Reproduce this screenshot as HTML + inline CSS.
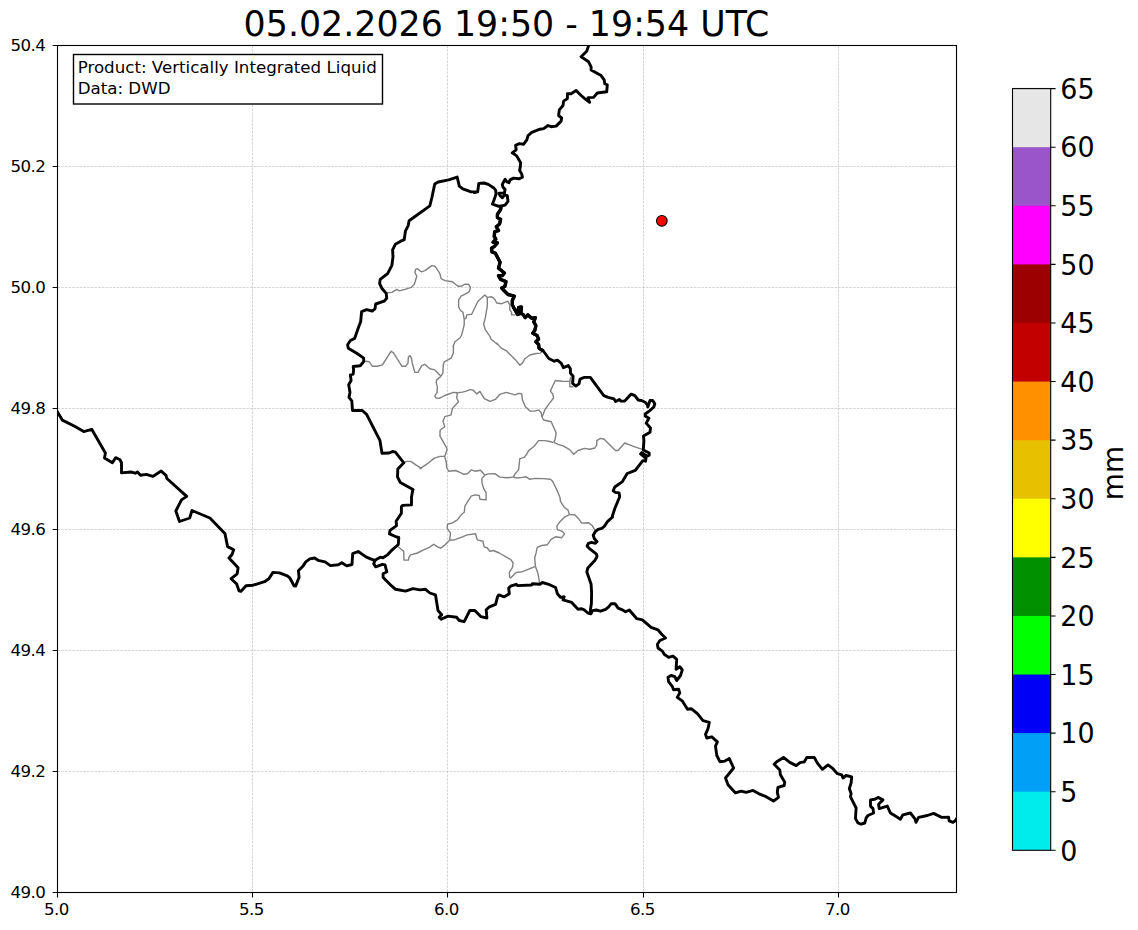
<!DOCTYPE html>
<html lang="en"><head><meta charset="utf-8"><title>Vertically Integrated Liquid</title>
<style>html,body{margin:0;padding:0;background:#fff}svg{display:block}</style></head>
<body>
<svg width="1138" height="930" viewBox="0 0 1138 930" font-family="'DejaVu Sans','Liberation Sans',sans-serif" fill="#000">
<rect x="0" y="0" width="1138" height="930" fill="#fff"/>
<text x="506.4" y="35.8" font-size="34.8" text-anchor="middle">05.02.2026 19:50 - 19:54 UTC</text>
<path d="M252.50 45.5V892.5M447.50 45.5V892.5M643.50 45.5V892.5M838.50 45.5V892.5M57.5 166.50H956.5M57.5 287.50H956.5M57.5 408.50H956.5M57.5 529.50H956.5M57.5 650.50H956.5M57.5 771.50H956.5" fill="none" stroke="#b0b0b0" stroke-opacity="0.75" stroke-width="0.7" stroke-dasharray="2.6 1.1"/>
<clipPath id="c"><rect x="57.5" y="45.5" width="899.0" height="847.0"/></clipPath>
<g clip-path="url(#c)" fill="none" stroke-linejoin="round" stroke-linecap="butt">
<path d="M385.6 293.0L391.9 292.4L396.8 289.3L399.3 290.9L405.0 289.3L411.2 287.4L414.3 284.3L416.8 276.2L414.9 272.5L415.6 269.3L417.4 268.7L421.2 271.8L424.9 270.6L431.8 265.6L434.9 266.2L438.0 270.6L439.9 273.7L441.1 278.7L444.9 280.6L452.4 281.8L458.0 286.2L461.1 286.2L464.8 284.3L468.6 284.3L470.5 287.4L469.2 291.8L466.1 293.7L461.1 296.2L458.6 299.9L458.6 306.8L460.5 310.5L463.0 312.4L464.2 319.3" stroke="#808080" stroke-width="1.4"/>
<path d="M464.2 319.3L466.1 318.0L466.7 314.9L471.7 314.3L478.0 301.2L484.8 294.9L487.3 297.4L491.7 296.8L494.8 299.3L496.7 303.0L501.7 303.7L507.9 301.2L509.8 304.9L509.8 309.9L511.6 312.4L511.6 314.9L515.4 314.9" stroke="#808080" stroke-width="1.4"/>
<path d="M487.3 297.4L487.3 306.1L485.4 317.4L483.6 324.2L485.4 329.9L489.8 336.1L491.1 339.2L497.3 344.2L496.8 343.1L501.2 348.1L506.1 350.6L511.1 355.6L516.1 360.6L519.9 365.2L522.4 363.1L524.9 358.7L529.9 355.0L536.1 353.5L540.5 353.1L541.7 351.8" stroke="#808080" stroke-width="1.4"/>
<path d="M464.2 319.3L464.2 324.9L461.7 334.8L459.9 338.0L454.9 341.7L453.0 346.7L453.5 346.2L453.3 353.1L451.1 358.1L444.2 361.8L443.3 364.9L442.9 373.0L441.1 376.2" stroke="#808080" stroke-width="1.4"/>
<path d="M365.0 361.2L369.3 361.8L372.4 366.2L377.4 366.2L382.4 364.9L391.2 351.2L393.7 353.1L401.8 366.2L405.5 366.2L408.0 363.1L408.4 356.8L410.1 355.6L411.4 358.1L412.4 363.7L414.9 372.4L418.0 372.4L421.7 365.6L424.8 364.3L429.8 368.7L434.8 369.9L441.1 376.2" stroke="#808080" stroke-width="1.4"/>
<path d="M441.1 376.2L436.7 379.9L436.1 382.4L437.3 386.1L437.1 392.4L434.8 396.1L436.1 398.0L439.2 398.4L444.8 395.5L453.5 392.4L457.3 392.8" stroke="#808080" stroke-width="1.4"/>
<path d="M457.2 392.8L462.5 392.1L466.2 391.1L470.0 389.6L473.1 390.1L476.8 393.9L479.9 391.4L484.3 398.6L489.9 401.4L495.5 399.3L499.9 394.3L506.1 392.4L510.5 393.6L514.9 394.9L518.6 393.4L521.7 393.6L522.4 399.9L525.5 406.7L529.9 411.1L534.8 411.1L538.6 409.9L541.1 412.4L542.0 417.3" stroke="#808080" stroke-width="1.4"/>
<path d="M542.0 417.3L544.8 409.9L549.2 403.6L553.6 398.0L552.9 394.3L550.4 391.1L552.9 385.5L555.4 380.5L562.3 381.2L569.8 381.4L569.8 386.8L573.5 386.8" stroke="#808080" stroke-width="1.4"/>
<path d="M569.8 381.4L570.8 376.8" stroke="#808080" stroke-width="1.4"/>
<path d="M542.2 417.5L543.7 420.0L551.2 421.8L554.3 428.7L556.2 433.1L555.0 439.9L553.7 442.4" stroke="#808080" stroke-width="1.4"/>
<path d="M553.7 442.4L558.1 444.3L563.7 446.2L569.9 449.9L573.7 454.3L578.0 450.5L584.3 448.4L589.9 449.3L594.9 448.0L596.8 444.9L596.8 440.6L600.5 438.4L604.2 439.3L609.9 444.9L615.5 450.5L618.0 450.5L624.8 443.0L629.8 444.9L634.8 446.8L642.3 449.3" stroke="#808080" stroke-width="1.4"/>
<path d="M553.3 442.7L549.8 441.5L544.8 440.6L538.5 440.6L534.2 446.2L528.6 450.6L526.7 454.3L524.2 457.4L519.8 458.7L518.6 469.9L514.8 474.3L513.3 477.1" stroke="#808080" stroke-width="1.4"/>
<path d="M457.3 392.8L456.7 398.0L458.5 401.7L452.3 408.6L451.1 414.8L444.8 416.7L442.9 421.1L444.8 426.7L440.4 429.8L440.0 431.2L440.0 436.2L446.8 448.1L446.8 450.6L444.7 456.4" stroke="#808080" stroke-width="1.4"/>
<path d="M444.7 456.4L440.0 456.4L434.3 458.1L427.5 463.7L420.0 468.7L421.4 468.4L415.8 464.9L410.8 461.4L406.6 461.4L403.8 462.8" stroke="#808080" stroke-width="1.4"/>
<path d="M444.7 456.4L446.2 461.8L446.8 468.0L448.7 471.2L455.6 470.5L459.9 472.4L463.7 474.3L467.4 473.7L471.2 469.9L474.9 471.2L480.5 470.3L484.9 475.2" stroke="#808080" stroke-width="1.4"/>
<path d="M484.9 475.2L488.0 473.9L494.9 473.7L499.9 477.1L507.3 477.8L513.3 477.1" stroke="#808080" stroke-width="1.4"/>
<path d="M484.9 475.2L481.8 478.6L482.1 483.6L484.3 489.9L486.1 492.4L486.1 499.9L479.9 499.2L479.3 495.5L474.9 494.9L471.2 496.1L468.0 501.1L464.9 506.1L464.3 512.3L461.2 514.8L457.4 519.8L452.4 522.9L447.5 524.2L447.1 528.1L450.5 533.1L449.6 540.2" stroke="#808080" stroke-width="1.4"/>
<path d="M449.6 540.2L444.9 544.9L441.1 548.0L438.0 547.2L433.7 544.3L429.3 547.4L423.7 549.9L417.4 553.0L410.6 554.9L408.9 557.4L408.4 560.1L404.0 560.1L403.7 551.2L398.1 546.8" stroke="#808080" stroke-width="1.4"/>
<path d="M449.6 540.2L454.9 539.7L461.1 537.4L467.3 534.9L475.5 533.7L477.3 539.9L482.9 541.2L484.2 546.8L487.3 548.0L489.8 551.2L493.5 550.5L499.2 553.0L506.0 556.8L511.0 559.9L513.1 563.0L512.5 567.4L509.3 572.4L509.7 577.3L510.6 578.0L516.2 572.4L522.4 571.7L529.9 568.6L535.5 566.4" stroke="#808080" stroke-width="1.4"/>
<path d="M535.5 566.4L538.0 573.6L539.5 583.0" stroke="#808080" stroke-width="1.4"/>
<path d="M513.3 477.1L517.3 478.0L522.3 477.4L526.1 476.8L529.8 479.3L534.8 478.4L542.9 478.6L550.4 479.3L552.5 481.1L556.8 489.8L559.9 497.3L560.6 501.7L564.3 507.3L567.4 509.8L568.0 510.0L569.5 514.6" stroke="#808080" stroke-width="1.4"/>
<path d="M569.5 514.6L574.8 514.7L578.6 518.7L581.7 523.1L588.6 522.7L592.3 525.6L594.8 530.2" stroke="#808080" stroke-width="1.4"/>
<path d="M569.5 514.6L564.9 516.8L559.9 521.8L556.8 526.2L557.4 529.7L562.4 531.4L564.6 533.9L561.7 537.7L555.5 536.8L551.1 539.3L547.4 544.7L541.8 545.5L537.2 547.4L536.2 552.4L534.7 558.0L535.2 563.6L535.5 566.4" stroke="#808080" stroke-width="1.4"/>
<path d="M56.3 409.9L62.3 420.1L74.6 426.3L83.7 431.6L91.7 429.3L105.4 453.0L104.5 457.9L112.4 462.7L115.6 457.7L119.8 459.5L121.5 462.7L121.5 472.9L130.8 472.0L135.2 473.2L137.5 472.0L140.5 475.3L146.3 474.4L152.8 476.4L161.2 471.1L166.0 475.3L166.9 478.5L186.7 496.4L181.5 499.9L175.8 511.0L179.5 521.5L189.7 518.0L192.0 510.5L209.9 518.0L224.9 533.4L227.6 546.6L233.7 549.7L232.0 554.5L229.0 558.0L238.1 567.7L237.2 573.8L231.1 578.7L236.7 584.0L239.0 590.9L240.8 591.4L246.0 585.8L253.1 585.2L264.5 581.7L268.9 578.7L272.9 572.4L279.4 572.9L287.3 575.9L290.0 578.2L294.0 585.8L295.6 586.1L299.1 577.3L298.4 570.7L303.1 565.9L305.8 561.9L309.8 558.9L314.6 558.0L318.1 560.3L325.1 561.9L330.4 565.6L338.3 564.7L341.8 562.7L346.7 565.9L352.0 564.5L352.7 553.6L358.2 551.5L366.4 557.1L374.3 560.3L375.0 560.3" stroke="#000" stroke-width="2.9"/>
<path d="M375.0 560.3L380.3 557.2L383.0 557.8L387.8 554.6L392.2 549.8L398.3 544.5L398.8 537.5L396.6 537.0L389.5 533.9L390.0 530.4L396.6 525.6L396.1 521.2L401.4 513.3L401.4 506.7L402.7 505.4L411.5 504.9L411.5 497.0L412.8 490.0L413.0 489.5L400.3 482.5L397.5 476.9L397.8 469.1L403.8 462.8L395.4 452.2L392.6 451.5L389.1 453.0L382.0 453.2L379.9 440.3L366.6 414.3L362.3 410.5L352.5 410.5L351.8 400.9L349.0 397.4L350.0 392.5L348.7 384.8L351.1 380.5L350.4 374.9L353.2 374.2L353.6 370.0L353.2 366.5L360.2 365.8L363.7 361.6L363.7 358.1L356.7 353.2L348.3 348.3L347.6 344.7L350.4 340.5L354.6 338.4L358.1 328.6L360.7 321.5L361.6 311.7L366.6 309.6L372.2 311.0L375.0 308.9L375.7 304.0L384.1 301.2L386.7 298.3L386.2 293.4L382.0 288.5L379.6 283.6L380.2 279.4L387.6 273.7L391.9 265.3L393.0 256.9L392.6 249.8L395.4 244.2L400.3 241.4L404.2 239.7L405.4 231.2L408.2 225.6L409.1 220.7L429.8 205.9L431.9 197.5L434.7 184.1L438.2 182.0L448.7 179.9L457.2 177.1L459.3 186.2L462.8 188.8L471.2 191.9L477.6 191.9L474.2 192.5L477.7 191.8L478.8 183.4L484.1 183.0L488.3 184.4L493.9 188.0L495.7 190.4L496.0 194.3L494.3 199.2L492.5 204.1L498.1 206.2L502.0 205.9L501.2 206.3L500.6 209.5L497.4 214.4L497.4 217.6L500.6 219.2L499.6 224.0L496.3 226.7L498.5 230.5L494.7 231.6L494.2 236.4L495.8 239.1L493.1 242.3L497.4 242.8L494.2 246.6L491.5 248.2L492.0 252.0L495.3 253.1L500.1 262.2L498.5 268.1L504.4 273.0L502.3 275.6L498.5 275.6L500.6 279.4L506.0 281.6L504.9 286.4L501.7 288.0L504.2 290.8L508.0 294.5L514.4 296.1L512.3 300.4L512.3 304.7L514.4 309.0L517.6 314.4L520.9 313.3L521.4 306.9L518.7 307.4L517.6 311.2L523.0 314.4L525.2 317.6L527.8 314.9L531.6 318.2L535.4 317.6L533.8 321.9L535.9 325.7L534.8 330.5L532.7 333.2L537.0 335.4L538.6 339.1L535.9 341.8L538.6 344.5L539.1 348.3L543.4 351.0L548.8 358.5L554.2 361.2L557.4 360.1L561.3 363.4L563.4 367.7L568.3 365.6L570.4 368.8L570.4 373.1L573.1 376.3L572.6 383.3L575.8 386.0L579.0 383.9L580.1 379.0L584.4 377.4L590.3 377.4L603.8 395.7L608.1 397.3L614.0 398.9L615.6 401.6L619.4 399.5L621.0 401.1L624.7 401.1L631.2 394.1L634.9 395.7L638.2 400.0L641.4 400.5L645.2 402.2L647.3 404.8L647.8 407.0L650.0 400.5L652.7 400.5L654.8 403.8L653.8 407.0L649.5 410.8L645.2 414.0L645.2 416.1L648.9 418.3L646.2 423.1L650.5 428.0L650.0 432.3L643.5 436.0L643.9 440.8L643.3 449.9L649.2 453.1L649.2 455.3L647.1 456.3L641.7 452.6L640.6 453.9L646.0 458.5L645.5 461.2L642.8 460.6L635.3 470.3L627.2 473.5L622.4 481.6L614.8 487.0L613.2 490.8L615.4 492.4L619.1 492.9L619.7 496.7L614.8 508.5L612.2 516.6L612.6 517.0L607.7 521.3L604.5 526.1L601.8 528.3L598.1 529.4L595.4 531.5L593.2 535.3L594.3 538.5L597.0 541.7L595.4 543.3L591.6 542.3L588.4 543.3L587.1 546.0L588.9 548.2L596.5 554.1L597.0 556.8L594.8 560.5L587.8 568.1L586.8 571.8L591.1 584.2L591.6 592.8L591.4 603.5L590.4 609.9L590.8 613.9L590.8 613.9L587.9 613.0L584.2 609.9L581.7 608.7L578.0 609.3L571.7 602.4L563.0 599.9L564.2 596.8L560.5 597.4L557.4 593.7L555.5 587.5L548.6 584.3L542.4 582.5L539.9 584.3L532.4 583.7L531.8 585.0L517.4 585.6L516.2 584.3L510.6 586.2L508.7 588.1L509.3 593.7L504.3 596.8L498.7 594.9L497.5 596.8L495.6 604.3L489.4 606.8L486.2 609.9L486.9 618.0L481.0 616.7L474.8 610.5L469.8 610.5L464.2 621.7L459.2 620.5L456.7 617.3L448.0 616.1L441.1 619.2L439.2 617.3L441.7 614.8L438.0 610.5L435.5 594.9L429.9 593.0L425.5 589.3L419.9 589.9L413.0 588.6L405.5 591.1L395.6 589.3L389.9 584.3L383.1 577.4L383.1 573.7L386.8 571.8L385.0 564.9L382.5 564.3L375.6 566.8L373.7 563.7L375.0 560.6" stroke="#000" stroke-width="2.9"/>
<path d="M589.2 42.5L588.6 45.6L586.7 51.2L581.1 56.8L588.6 61.8L591.1 66.8L591.1 69.9L601.1 75.6L604.2 79.9L604.8 83.7L607.3 84.9L606.7 91.8L597.3 93.0L593.6 97.4L588.0 97.6L589.6 102.4L584.8 98.6L581.1 95.5L576.1 90.5L571.1 93.7L567.4 93.7L567.4 98.6L563.6 101.1L563.0 105.5L559.3 109.9L558.6 115.5L561.7 118.0L561.1 121.1L556.1 126.1L551.1 126.7L548.0 125.5L543.7 128.6L539.9 129.2L531.8 132.3L528.1 135.5L526.8 139.8L523.7 144.2L519.3 143.6L515.6 145.4L516.2 149.8L512.2 152.8L516.4 155.6L518.5 159.1L520.6 162.7L520.3 166.9L519.6 170.4L521.7 173.9L522.4 177.1L519.2 178.8L513.6 178.1L510.1 179.9L509.0 182.7L506.6 181.6L505.1 179.2L502.3 184.4L503.0 187.3L505.1 189.4L504.4 192.9L498.8 193.2L500.2 195.7L502.3 197.8L504.4 195.0L507.3 195.7L508.0 201.3L505.1 205.2L502.0 205.9" stroke="#000" stroke-width="2.9"/>
<path d="M590.6 614.3L592.5 610.6L596.2 610.0L600.6 611.2L605.6 609.3L608.7 606.8L611.2 603.7L615.0 603.7L618.1 608.1L621.2 609.3L625.6 611.8L629.3 610.0L636.8 618.7L642.4 619.9L651.1 627.4L658.0 629.9L661.7 634.3L665.5 638.0L659.9 640.5L657.4 644.3L658.0 648.0L662.4 651.1L664.2 654.3L668.6 657.4L673.0 656.1L676.7 659.3L676.1 669.2L679.8 666.7L682.3 669.9L680.5 675.5L676.7 680.5L674.8 676.7L671.1 675.5L668.0 677.3L668.6 681.7L672.4 686.7L673.6 689.8L678.6 689.2L679.8 692.9L677.3 697.3L682.5 701.2L687.5 709.3L691.2 708.7L697.4 713.7L703.0 720.6L709.3 722.4L708.0 728.7L705.5 734.3L706.8 738.0L711.8 736.8L717.4 741.8L715.5 746.1L716.8 755.5L719.9 761.7L724.9 761.1L729.3 758.6L733.6 768.0L725.5 778.0L728.0 784.8L735.5 792.9L741.1 791.1L746.1 792.3L753.0 790.4L758.6 793.6L766.1 796.7L773.5 801.1L778.5 797.3L777.3 792.3L777.9 787.3L784.2 785.5L784.8 782.3L780.4 774.8L779.8 769.9L774.2 764.2L776.7 761.7L783.5 757.4L789.8 762.4L796.2 765.6L800.0 762.7L804.3 761.8L806.8 757.5L814.3 757.5L817.4 763.1L822.4 769.3L828.0 764.9L833.0 768.7L837.4 773.7L841.8 774.9L843.0 778.0L846.1 775.5L851.7 776.8L851.1 783.0L849.3 788.6L851.1 793.6L850.5 796.8L856.1 808.0L855.5 818.6L858.0 823.0L861.1 824.2L864.8 823.0L866.1 818.0L868.0 815.5L873.6 813.0L873.0 808.6L870.5 806.1L870.5 799.9L874.8 799.3L878.0 797.4L882.9 799.9L878.6 804.2L879.2 808.6L887.3 806.1L890.4 813.0L895.4 816.1L900.4 819.2L902.9 814.8L910.4 813.0L914.8 818.6L916.0 822.3L918.6 817.4L927.4 815.5L933.6 813.4L941.7 817.4L948.6 817.2L949.2 820.9L953.0 822.4L955.5 820.5L958.6 815.5" stroke="#000" stroke-width="2.9"/>
<path d="M501.2 206.3L500.6 209.5L497.4 214.4L497.4 217.6L500.6 219.2L499.6 224.0L496.3 226.7L498.5 230.5L494.7 231.6L494.2 236.4L495.8 239.1L493.1 242.3L497.4 242.8L494.2 246.6L491.5 248.2L492.0 252.0L495.3 253.1L500.1 262.2L498.5 268.1L504.4 273.0L502.3 275.6L498.5 275.6L500.6 279.4L506.0 281.6L504.9 286.4L501.7 288.0L504.2 290.8L508.0 294.5L514.4 296.1L512.3 300.4L512.3 304.7L514.4 309.0L517.6 314.4L520.9 313.3L521.4 306.9L518.7 307.4L517.6 311.2L523.0 314.4L525.2 317.6L527.8 314.9L531.6 318.2L535.4 317.6L533.8 321.9L535.9 325.7L534.8 330.5L532.7 333.2L537.0 335.4L538.6 339.1L535.9 341.8L538.6 344.5L539.1 348.3L543.4 351.0" stroke="#000" stroke-width="3.4"/>
</g>
<circle cx="661.85" cy="220.85" r="5.35" fill="#ff0000" stroke="#000" stroke-width="1.1"/>
<path d="M57.50 892.5v4.9M252.50 892.5v4.9M447.50 892.5v4.9M643.50 892.5v4.9M838.50 892.5v4.9M57.5 45.50h-4.9M57.5 166.50h-4.9M57.5 287.50h-4.9M57.5 408.50h-4.9M57.5 529.50h-4.9M57.5 650.50h-4.9M57.5 771.50h-4.9M57.5 892.50h-4.9" fill="none" stroke="#000" stroke-width="1.1"/>
<rect x="57.5" y="45.5" width="899.0" height="847.0" fill="none" stroke="#000" stroke-width="1.1"/>
<text x="56.4" y="915.4" font-size="16.67" letter-spacing="-0.6" text-anchor="middle">5.0</text>
<text x="251.4" y="915.4" font-size="16.67" letter-spacing="-0.6" text-anchor="middle">5.5</text>
<text x="446.4" y="915.4" font-size="16.67" letter-spacing="-0.6" text-anchor="middle">6.0</text>
<text x="642.4" y="915.4" font-size="16.67" letter-spacing="-0.6" text-anchor="middle">6.5</text>
<text x="837.4" y="915.4" font-size="16.67" letter-spacing="-0.6" text-anchor="middle">7.0</text>
<text x="45.3" y="51.3" font-size="16.67" letter-spacing="-0.6" text-anchor="end">50.4</text>
<text x="45.3" y="172.3" font-size="16.67" letter-spacing="-0.6" text-anchor="end">50.2</text>
<text x="45.3" y="293.3" font-size="16.67" letter-spacing="-0.6" text-anchor="end">50.0</text>
<text x="45.3" y="414.3" font-size="16.67" letter-spacing="-0.6" text-anchor="end">49.8</text>
<text x="45.3" y="535.3" font-size="16.67" letter-spacing="-0.6" text-anchor="end">49.6</text>
<text x="45.3" y="656.3" font-size="16.67" letter-spacing="-0.6" text-anchor="end">49.4</text>
<text x="45.3" y="777.3" font-size="16.67" letter-spacing="-0.6" text-anchor="end">49.2</text>
<text x="45.3" y="898.3" font-size="16.67" letter-spacing="-0.6" text-anchor="end">49.0</text>
<rect x="73.5" y="54.5" width="309" height="49.5" fill="#fff" stroke="#000" stroke-width="1.4"/>
<text x="77.7" y="73.4" font-size="16.67">Product: Vertically Integrated Liquid</text>
<text x="77.7" y="94.4" font-size="16.67">Data: DWD</text>
<rect x="1012.5" y="790.71" width="38.2" height="59.59" fill="#00ecec"/>
<rect x="1012.5" y="732.12" width="38.2" height="59.59" fill="#01a0f6"/>
<rect x="1012.5" y="673.52" width="38.2" height="59.59" fill="#0000f6"/>
<rect x="1012.5" y="614.93" width="38.2" height="59.59" fill="#00ff00"/>
<rect x="1012.5" y="556.34" width="38.2" height="59.59" fill="#009000"/>
<rect x="1012.5" y="497.75" width="38.2" height="59.59" fill="#ffff00"/>
<rect x="1012.5" y="439.15" width="38.2" height="59.59" fill="#e7c000"/>
<rect x="1012.5" y="380.56" width="38.2" height="59.59" fill="#ff9000"/>
<rect x="1012.5" y="321.97" width="38.2" height="59.59" fill="#c20000"/>
<rect x="1012.5" y="263.38" width="38.2" height="59.59" fill="#9c0000"/>
<rect x="1012.5" y="204.78" width="38.2" height="59.59" fill="#ff00ff"/>
<rect x="1012.5" y="146.19" width="38.2" height="59.59" fill="#9955c9"/>
<rect x="1012.5" y="87.60" width="38.2" height="59.59" fill="#e6e6e6"/>
<rect x="1012.5" y="88.6" width="38.2" height="761.7" fill="none" stroke="#000" stroke-width="1.1"/>
<text transform="translate(1060.3 860.5) scale(0.968 1)" font-size="27.8">0</text>
<text transform="translate(1060.3 801.9) scale(0.968 1)" font-size="27.8">5</text>
<text transform="translate(1060.3 743.3) scale(0.968 1)" font-size="27.8">10</text>
<text transform="translate(1060.3 684.7) scale(0.968 1)" font-size="27.8">15</text>
<text transform="translate(1060.3 626.1) scale(0.968 1)" font-size="27.8">20</text>
<text transform="translate(1060.3 567.5) scale(0.968 1)" font-size="27.8">25</text>
<text transform="translate(1060.3 508.9) scale(0.968 1)" font-size="27.8">30</text>
<text transform="translate(1060.3 450.4) scale(0.968 1)" font-size="27.8">35</text>
<text transform="translate(1060.3 391.8) scale(0.968 1)" font-size="27.8">40</text>
<text transform="translate(1060.3 333.2) scale(0.968 1)" font-size="27.8">45</text>
<text transform="translate(1060.3 274.6) scale(0.968 1)" font-size="27.8">50</text>
<text transform="translate(1060.3 216.0) scale(0.968 1)" font-size="27.8">55</text>
<text transform="translate(1060.3 157.4) scale(0.968 1)" font-size="27.8">60</text>
<text transform="translate(1060.3 98.8) scale(0.968 1)" font-size="27.8">65</text>
<path d="M1050.7 850.30h4.9M1050.7 791.71h4.9M1050.7 733.12h4.9M1050.7 674.52h4.9M1050.7 615.93h4.9M1050.7 557.34h4.9M1050.7 498.75h4.9M1050.7 440.15h4.9M1050.7 381.56h4.9M1050.7 322.97h4.9M1050.7 264.38h4.9M1050.7 205.78h4.9M1050.7 147.19h4.9M1050.7 88.60h4.9" fill="none" stroke="#000" stroke-width="1.1"/>
<text transform="translate(1123.1 473.1) rotate(-90)" font-size="27.8" text-anchor="middle">mm</text>
</svg>
</body></html>
